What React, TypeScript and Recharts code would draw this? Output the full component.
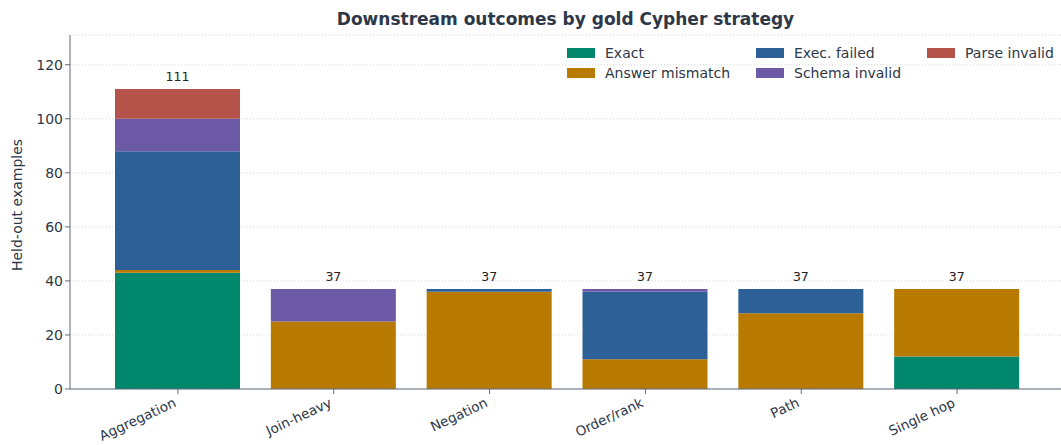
import { BarChart, Bar, XAxis, YAxis, CartesianGrid, LabelList } from 'recharts';

const FONT = '"DejaVu Sans", sans-serif';
const AXIS_COLOR = '#5f6b7a';
const TEXT_COLOR = '#2d3748';

const categories = ['Aggregation', 'Join-heavy', 'Negation', 'Order/rank', 'Path', 'Single hop'];
const exact = [43, 0, 0, 0, 0, 12];
const answerMismatch = [1, 25, 36, 11, 28, 25];
const execFailed = [44, 0, 1, 25, 9, 0];
const schemaInvalid = [12, 12, 0, 1, 0, 0];
const parseInvalid = [11, 0, 0, 0, 0, 0];
const yTicks = [0, 20, 40, 60, 80, 100, 120];

const SERIES = [
    { key: 'exact', name: 'Exact', color: '#00876c', values: exact },
    { key: 'answer', name: 'Answer mismatch', color: '#b87a00', values: answerMismatch },
    { key: 'exec', name: 'Exec. failed', color: '#2e6098', values: execFailed },
    { key: 'schema', name: 'Schema invalid', color: '#6d5aa6', values: schemaInvalid },
    { key: 'parse', name: 'Parse invalid', color: '#b5534b', values: parseInvalid },
];

// each row gets its values plus a total label on its topmost non-empty segment
const data = categories.map((name, i) => {
    const row: any = { name };
    let total = 0;
    let top = '';
    SERIES.forEach((s) => {
        row[s.key] = s.values[i];
        total += s.values[i];
        if (s.values[i] > 0) top = s.key;
    });
    SERIES.forEach((s) => {
        row[`lbl_${s.key}`] = s.key === top ? total : null;
    });
    return row;
});

// legend in 3 columns, filled column-wise
const LEGEND_POS = [
    { x: 567, y: 53 }, { x: 567, y: 73 },
    { x: 756, y: 53 }, { x: 756, y: 73 },
    { x: 927, y: 53 },
];

function XTick({ x = 0, y = 0, payload }: any) {
    return (
        <g transform={`translate(${x - 1},${y + 10}) rotate(-25)`}>
            <text x={0} y={0} textAnchor="end" fontSize={13.5} fill={TEXT_COLOR} fontFamily={FONT}>
                {payload.value}
            </text>
        </g>
    );
}

const YLabel = () => (
    <text transform="translate(22,205) rotate(-90)" textAnchor="middle" fontSize={14} fill={TEXT_COLOR} fontFamily={FONT}>
        Held-out examples
    </text>
);

export default function App() {
    return (
        <div style={{ position: 'absolute', left: 0, top: 0, width: 1061, height: 445, background: '#fff', fontFamily: FONT }}>
            <div style={{ position: 'absolute', left: 70, width: 991, top: 9, textAlign: 'center', fontSize: 17, fontWeight: 700, color: TEXT_COLOR }}>
                Downstream outcomes by gold Cypher strategy
            </div>
            <BarChart
                width={1061}
                height={445}
                data={data}
                margin={{ top: 35, right: 0, bottom: 0, left: 0 }}
                barCategoryGap={0}
            >
                <CartesianGrid vertical={false} stroke="#d4d7dc" strokeDasharray="1 2" />
                <XAxis
                    dataKey="name"
                    height={56}
                    tick={<XTick />}
                    tickLine={{ stroke: AXIS_COLOR }}
                    tickSize={5}
                    axisLine={{ stroke: AXIS_COLOR }}
                    padding={{ left: 30, right: 26 }}
                    interval={0}
                />
                <YAxis
                    width={70}
                    domain={[0, 131]}
                    ticks={yTicks}
                    allowDataOverflow
                    tick={{ fill: TEXT_COLOR, fontSize: 14, fontFamily: FONT }}
                    tickLine={{ stroke: AXIS_COLOR }}
                    tickSize={5}
                    axisLine={{ stroke: AXIS_COLOR }}
                    label={<YLabel />}
                />
                {SERIES.map((s) => (
                    <Bar key={s.key} dataKey={s.key} stackId="a" fill={s.color} barSize={125} isAnimationActive={false}>
                        <LabelList dataKey={`lbl_${s.key}`} position="top" offset={8} fill="#222" fontSize={12.5} fontFamily={FONT} />
                    </Bar>
                ))}
            </BarChart>
            {SERIES.map((s, i) => (
                <div key={s.key} style={{ position: 'absolute', left: LEGEND_POS[i].x, top: LEGEND_POS[i].y - 8, display: 'flex', alignItems: 'center', fontSize: 14, color: TEXT_COLOR, whiteSpace: 'nowrap' }}>
                    <div style={{ width: 28, height: 10, background: s.color, marginRight: 10 }} />
                    <span>{s.name}</span>
                </div>
            ))}
        </div>
    );
}
